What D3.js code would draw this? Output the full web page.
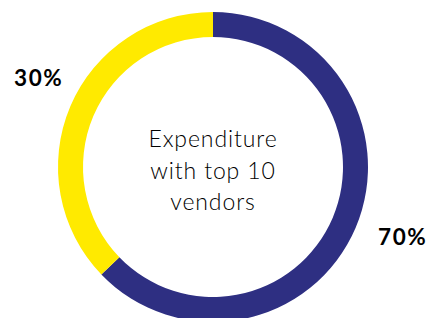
<!DOCTYPE html>
<html>
<head>
<meta charset="utf-8">
<script src="https://cdn.jsdelivr.net/npm/d3@7"></script>
<style>
  html, body { margin: 0; padding: 0; background: #fff; }
  svg { display: block; }
</style>
</head>
<body>
<div id="chart"></div>
<script>
// ---------- Data ----------
// arc shares as drawn in the picture (the printed labels say 70 / 30)
const categories = ["Top 10 vendors", "Other vendors"];
const shares = [62.8, 37.2];
const labels = ["70%", "30%"];
const colours = ["#2e2f82", "#ffea00"];
const centerLines = ["Expenditure", "with top 10", "vendors"];

// ---------- Layout ----------
const width = 436, height = 318;
const cx = 213, cy = 167;
const outerR = 155, innerR = 130;

const svg = d3.select("#chart").append("svg")
  .attr("width", width)
  .attr("height", height);

const g = svg.append("g")
  .attr("transform", `translate(${cx},${cy})`);

const pie = d3.pie().sort(null).value(d => d.value);
const arc = d3.arc().innerRadius(innerR).outerRadius(outerR);

const slices = pie(categories.map((c, i) => ({ name: c, value: shares[i] })));

g.selectAll("path")
  .data(slices)
  .join("path")
  .attr("d", arc)
  .attr("fill", (d, i) => colours[i]);

// ---------- Labels ----------
const labelPos = [[378, 245], [14, 86]];

svg.selectAll("text.pct")
  .data(labels)
  .join("text")
  .attr("class", "pct")
  .attr("x", (d, i) => labelPos[i][0])
  .attr("y", (d, i) => labelPos[i][1])
  .attr("font-family", "Lato, 'Open Sans', sans-serif")
  .attr("font-weight", 700)
  .attr("font-size", 22.5)
  .attr("letter-spacing", 1.6)
  .attr("fill", "#000")
  .text(d => d);

// ---------- Centre text ----------
g.selectAll("text.centre")
  .data(centerLines)
  .join("text")
  .attr("class", "centre")
  .attr("x", 0)
  .attr("y", (d, i) => -20 + i * 31.5)
  .attr("text-anchor", "middle")
  .attr("font-family", "Lato, 'Open Sans', sans-serif")
  .attr("font-weight", 300)
  .attr("font-size", 23)
  .attr("letter-spacing", 0.9)
  .attr("fill", "#000")
  .text(d => d);
</script>
</body>
</html>
